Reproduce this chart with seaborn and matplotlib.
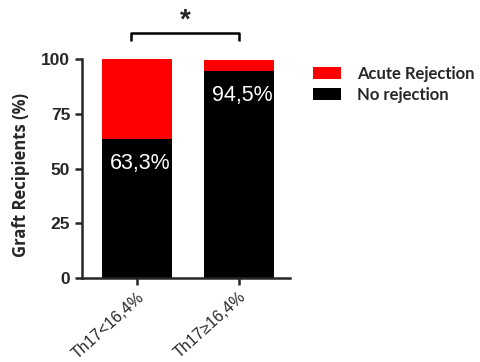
import matplotlib
matplotlib.use("Agg")
import matplotlib.pyplot as plt
import seaborn as sns
import pandas as pd
from matplotlib.patches import Patch

categories = ["Th17<16,4%", "Th17\u226516,4%"]
no_rejection = [63.3, 94.5]
acute_rejection = [36.7, 5.0]
labels = ["63,3%", "94,5%"]
yticks = [0, 25, 50, 75, 100]

sns.set_style("ticks")
plt.rcParams['font.family'] = ['Liberation Sans', 'DejaVu Sans']

df = pd.DataFrame({
    "cat": categories,
    "no": no_rejection,
    "total": [a + b for a, b in zip(no_rejection, acute_rejection)],
})

fig = plt.figure(figsize=(4.8, 3.62), dpi=100)
ax = fig.add_axes([0.171, 0.232, 0.433, 0.605])

sns.barplot(data=df, x="cat", y="total", color="#ff0000", width=0.686,
            saturation=1, ax=ax, edgecolor="none")
sns.barplot(data=df, x="cat", y="no", color="#000000", width=0.686,
            saturation=1, ax=ax, edgecolor="none")

ax.set_xlim(-0.539, 1.5)
ax.set_ylim(0, 100)
ax.set_yticks(yticks)
ax.set_yticklabels([str(t) for t in yticks], fontsize=12.5, fontweight="bold")
ax.set_xticks([0, 1])
ax.set_xticklabels(categories, rotation=42, ha="right", rotation_mode="anchor",
                   fontsize=11.5)
ax.set_xlabel("")
ax.set_ylabel("Graft Recipients (%)", fontsize=12, fontweight="bold",
              family=["Open Sans", "DejaVu Sans"])
ax.yaxis.set_label_coords(-0.25, 0.47)
for s in ["top", "right"]:
    ax.spines[s].set_visible(False)
for s in ["left", "bottom"]:
    ax.spines[s].set_linewidth(1.8)
ax.tick_params(axis="both", width=1.8, length=5, direction="out")
ax.tick_params(axis="x", pad=3)

offsets = [0.03, 0.03]
for i, (v, t) in enumerate(zip(no_rejection, labels)):
    ax.text(i + offsets[i], v - 11, t, color="white", ha="center", va="center",
            fontsize=15.5)

# significance bracket
ax.plot([-0.06, -0.06, 1.0, 1.0], [108, 112, 112, 108], color="black",
        lw=1.8, clip_on=False, solid_capstyle="butt")
ax.text(0.47, 117.5, "*", ha="center", va="center", fontsize=20,
        fontweight="bold", clip_on=False)

handles = [Patch(facecolor="#ff0000", edgecolor="none", label="Acute Rejection"),
           Patch(facecolor="#000000", edgecolor="none", label="No rejection")]
fig.legend(handles=handles, loc="upper left", bbox_to_anchor=(0.652, 0.818),
           frameon=False, handlelength=1.7, handleheight=0.8,
           borderpad=0, borderaxespad=0,
           prop={"family": ["Lato", "DejaVu Sans"], "weight": "bold", "size": 12},
           labelspacing=0.3, handletextpad=0.95)

fig.savefig("out.png", dpi=100)
